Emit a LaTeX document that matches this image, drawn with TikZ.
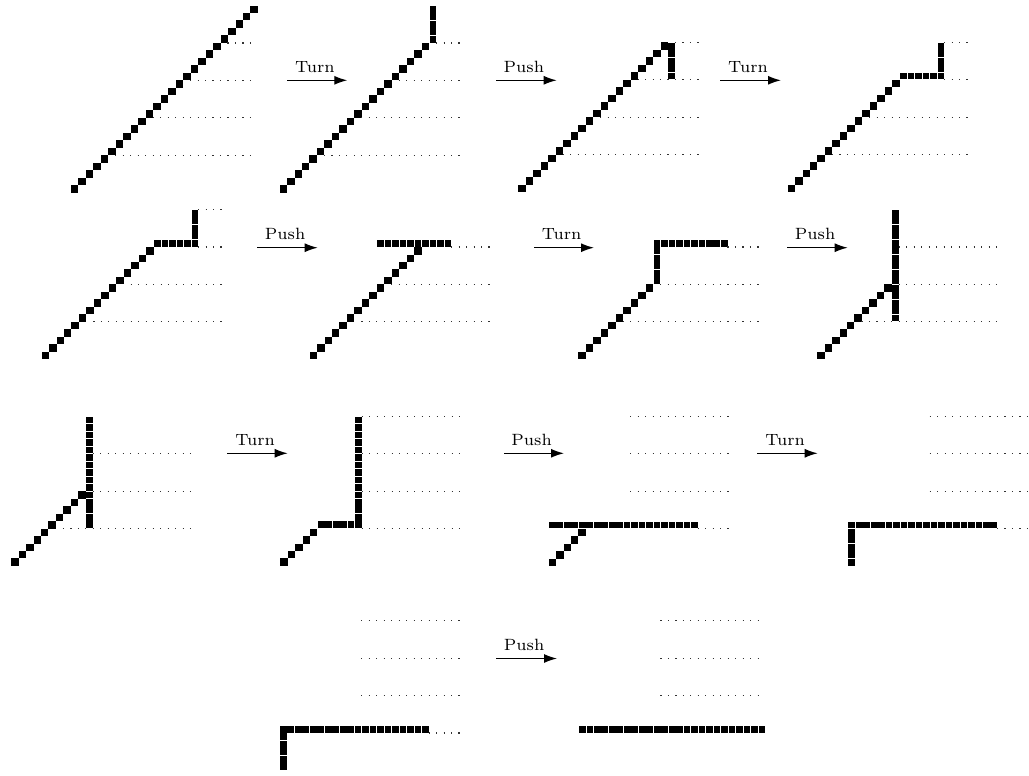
\documentclass[tikz,border=0pt]{standalone}
\usetikzlibrary{arrows.meta}
\newcommand\pdiag[1]{\foreach \k in {0,...,#1}{\fill[cellfill] (\k-0.5,\k-0.5) rectangle ++(1.0,1.0);}}
\newcommand\prow[3]{\foreach \k in {#1,...,#2}{\fill[cellfill] (\k-0.45,#3-0.45) rectangle ++(0.9,0.9);}}
\newcommand\pcol[3]{\foreach \k in {#2,...,#3}{\fill[cellfill] (#1-0.45,\k-0.45) rectangle ++(0.9,0.9);}}
\newcommand\pguide[2]{\draw[guide] (#2-0.08,#1) -- (23.65,#1);}
\tikzset{
  cellfill/.style={fill=black},
  guide/.style={line width=1.2pt, black!80, dash pattern=on 1.2pt off 6.28pt},
  flow/.style={-{Latex[length=13pt,width=9pt]}, line width=1.3pt},
  lbl/.style={above, pos=0.46, inner sep=2.8pt, font=\fontsize{7}{8}\selectfont, scale=2.33},
  panel/.style={x=7.48pt, y=7.48pt}
}
\begin{document}
\begin{tikzpicture}[x=1pt, y=-1pt]
\useasboundingbox (0,0) rectangle (1029,776);
% ---------- row 1 ----------
\begin{scope}[shift={(74.7,188.8)}, panel]
  \pdiag{24}
  \pguide{4.5}{5.5}\pguide{9.5}{10.5}\pguide{14.5}{15.5}\pguide{19.5}{20.5}
\end{scope}
\begin{scope}[shift={(283.3,188.8)}, panel]
  \pdiag{19}\pcol{20}{20}{24}
  \pguide{4.5}{5.5}\pguide{9.5}{10.5}\pguide{14.5}{15.5}\pguide{19.5}{20.5}
\end{scope}
\begin{scope}[shift={(522.2,188.3)}, panel]
  \pdiag{19}\pcol{20}{15}{19}
  \pguide{4.5}{5.5}\pguide{9.5}{10.5}\pguide{14.5}{15.5}\pguide{19.5}{20.5}
\end{scope}
\begin{scope}[shift={(791.3,188.3)}, panel]
  \pdiag{14}\prow{15}{20}{15}\pcol{20}{16}{19}
  \pguide{4.5}{5.5}\pguide{9.5}{10.5}\pguide{14.5}{20.5}\pguide{19.5}{20.5}
\end{scope}
% ---------- row 2 ----------
\begin{scope}[shift={(45.3,355.5)}, panel]
  \pdiag{14}\prow{15}{20}{15}\pcol{20}{16}{19}
  \pguide{4.5}{6.5}\pguide{9.5}{11.5}\pguide{14.5}{20.5}\pguide{19.5}{20.5}
\end{scope}
\begin{scope}[shift={(313.3,355.5)}, panel]
  \pdiag{14}\prow{9}{18}{15}
  \pguide{4.5}{6.5}\pguide{9.5}{10.5}\pguide{14.5}{18.5}
\end{scope}
\begin{scope}[shift={(582.2,355.5)}, panel]
  \pdiag{9}\pcol{10}{10}{14}\prow{10}{19}{15}
  \pguide{4.5}{5.5}\pguide{9.5}{10.5}\pguide{14.5}{19.5}
\end{scope}
\begin{scope}[shift={(820.8,355.5)}, panel]
  \pdiag{9}\pcol{10}{5}{19}
  \pguide{4.5}{5.5}\pguide{9.5}{10.5}\pguide{14.5}{10.5}
\end{scope}
% ---------- row 3 ----------
\begin{scope}[shift={(14.8,562.2)}, panel]
  \pdiag{9}\pcol{10}{5}{19}
  \pguide{4.5}{6.5}\pguide{9.5}{10.5}\pguide{14.5}{10.5}
\end{scope}
\begin{scope}[shift={(283.8,562.2)}, panel]
  \pdiag{4}\prow{5}{9}{5}\pcol{10}{5}{19}
  \pguide{4.5}{10.5}\pguide{9.5}{10.5}\pguide{14.5}{10.5}\pguide{19.5}{10.5}
\end{scope}
\begin{scope}[shift={(552.3,562.3)}, panel]
  \pdiag{4}\prow{0}{19}{5}
  \pguide{4.5}{19.5}\pguide{9.5}{10.5}\pguide{14.5}{10.5}\pguide{19.5}{10.5}
\end{scope}
\begin{scope}[shift={(851.7,562.3)}, panel]
  \pcol{0}{0}{4}\prow{0}{19}{5}
  \pguide{4.5}{19.5}\pguide{9.5}{10.5}\pguide{14.5}{10.5}\pguide{19.5}{10.5}
\end{scope}
% ---------- row 4 ----------
\begin{scope}[shift={(283.3,766.7)}, panel]
  \pcol{0}{0}{4}\prow{0}{19}{5}
  \pguide{4.5}{19.5}\pguide{9.5}{10.5}\pguide{14.5}{10.5}\pguide{19.5}{10.5}
\end{scope}
\begin{scope}[shift={(582.4,766.7)}, panel]
  \prow{0}{24}{5}
  \pguide{9.5}{10.5}\pguide{14.5}{10.5}\pguide{19.5}{10.5}
\end{scope}
% ---------- arrows ----------
\coordinate (a1s) at (287.3,80.3);  \coordinate (a1e) at (347.3,80.3);
\coordinate (a2s) at (496.0,80.3);  \coordinate (a2e) at (556.7,80.3);
\coordinate (a3s) at (720.0,80.3);  \coordinate (a3e) at (781.0,80.3);
\coordinate (a4s) at (257.3,247.7); \coordinate (a4e) at (317.7,247.7);
\coordinate (a5s) at (534.0,247.7); \coordinate (a5e) at (594.0,247.7);
\coordinate (a6s) at (787.3,247.7); \coordinate (a6e) at (847.7,247.7);
\coordinate (a7s) at (227.3,453.3); \coordinate (a7e) at (287.7,453.3);
\coordinate (a8s) at (504.0,453.3); \coordinate (a8e) at (564.0,453.3);
\coordinate (a9s) at (757.3,453.3); \coordinate (a9e) at (817.7,453.3);
\coordinate (a10s) at (496.0,658.5); \coordinate (a10e) at (557.0,658.5);
\draw[flow] (a1s) -- node[lbl] (l1) {Turn} (a1e);
\draw[flow] (a2s) -- node[lbl] (l2) {Push} (a2e);
\draw[flow] (a3s) -- node[lbl] (l3) {Turn} (a3e);
\draw[flow] (a4s) -- node[lbl] (l4) {Push} (a4e);
\draw[flow] (a5s) -- node[lbl] (l5) {Turn} (a5e);
\draw[flow] (a6s) -- node[lbl] (l6) {Push} (a6e);
\draw[flow] (a7s) -- node[lbl] (l7) {Turn} (a7e);
\draw[flow] (a8s) -- node[lbl] (l8) {Push} (a8e);
\draw[flow] (a9s) -- node[lbl] (l9) {Turn} (a9e);
\draw[flow] (a10s) -- node[lbl] (l10) {Push} (a10e);
\end{tikzpicture}
\end{document}
